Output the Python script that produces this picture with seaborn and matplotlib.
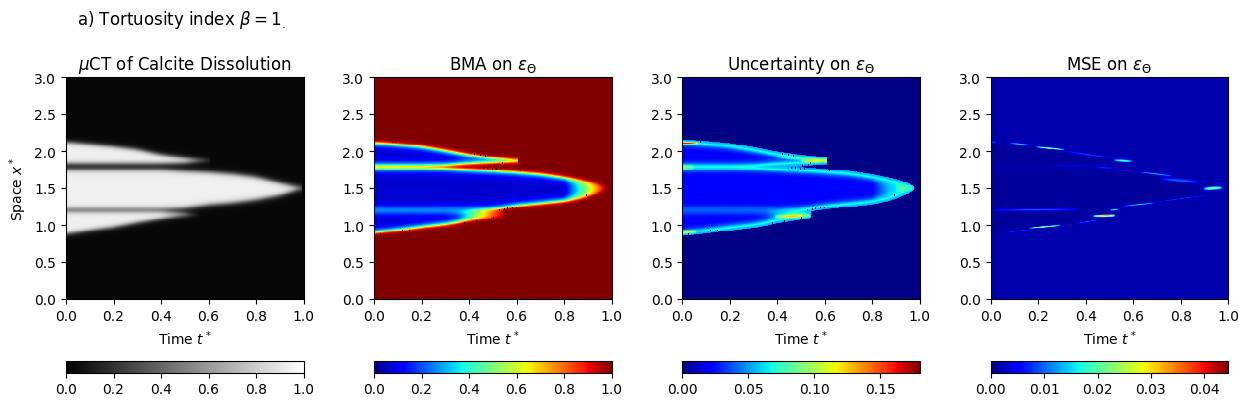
import numpy as np
import matplotlib
matplotlib.use("Agg")
import matplotlib.pyplot as plt
import seaborn as sns

# ---- values ----
tick_t = [0.0, 0.2, 0.4, 0.6, 0.8, 1.0]
tick_s = [0.0, 0.5, 1.0, 1.5, 2.0, 2.5, 3.0]
titles = [r"$\mu$CT of Calcite Dissolution", r"BMA on $\varepsilon_\Theta$",
          r"Uncertainty on $\varepsilon_\Theta$", r"MSE on $\varepsilon_\Theta$"]
cmaps = ["gray", "jet", "jet", "jet"]
vmaxs = [1.0, 1.0, 0.18, 0.0445]
cbar_ticks = [[0, .2, .4, .6, .8, 1.0], [0, .2, .4, .6, .8, 1.0],
              [0, .05, .10, .15], [0, .01, .02, .03, .04]]
cbar_fmt = ["%.1f", "%.1f", "%.2f", "%.2f"]

# finger fronts (time knots, lower and upper edge in space, amplitude)
top_t = [0, .1, .2, .3, .4, .5, .61]
bot_t = [0, .1, .2, .3, .4, .5, .56]
gray_mid_t = [0, .1, .2, .3, .4, .5, .6, .7, .8, .9, .99]

gray_top_hi = [2.12, 2.09, 2.06, 2.02, 1.95, 1.905, 1.868]
gray_top_lo = [1.83, 1.83, 1.83, 1.83, 1.83, 1.84, 1.872]
gray_top_amp = [1, 1, 1, 1, 1, 1, .4]
gray_mid_hi = [1.75, 1.75, 1.75, 1.75, 1.75, 1.73, 1.715, 1.69, 1.65, 1.57, 1.50]
gray_mid_lo = [1.217, 1.217, 1.217, 1.217, 1.217, 1.23, 1.275, 1.30, 1.34, 1.40, 1.50]
gray_bot_hi = [1.183, 1.183, 1.183, 1.183, 1.183, 1.16, 1.135]
gray_bot_lo = [0.88, 0.93, 0.97, 1.03, 1.085, 1.13, 1.145]
gray_bot_amp = [1, 1, 1, 1, 1, .8, .2]

bma_top_hi = [2.113, 2.09, 2.063, 2.009, 1.95, 1.905, 1.875]
bma_top_lo = [1.80, 1.80, 1.80, 1.805, 1.83, 1.845, 1.86]
bma_mid_t = [0, .1, .2, .3, .4, .5, .6, .7, .8, .88, .94, .985]
bma_mid_hi = [1.77, 1.77, 1.77, 1.765, 1.75, 1.735, 1.715, 1.69, 1.645, 1.60, 1.56, 1.50]
bma_mid_lo = [1.20, 1.20, 1.20, 1.20, 1.20, 1.21, 1.257, 1.288, 1.32, 1.365, 1.43, 1.50]
bma_mid_amp = [1, 1, 1, 1, 1, 1, 1, 1, 1, .6, .3, 0]
bma_bot_t = [0, .1, .2, .3, .35, .4, .45, .5, .54]
bma_bot_hi = [1.20, 1.20, 1.20, 1.20, 1.20, 1.20, 1.20, 1.20, 1.20]
bma_bot_lo = [0.896, 0.93, 0.97, 1.005, 1.03, 1.063, 1.08, 1.095, 1.108]
bma_bot_amp = [1, 1, 1, 1, .95, .75, .5, .25, .1]

# isolated dark cells along the rim of the BMA and uncertainty maps
speck_t = [.461, .475, .496, .515, .532, .541, .506, .422, .447, .468, .619, .525, .546,
           .56, .581, .598, .546, .504, .895, .12, .148, .077, .028, .38, .43]
speck_s = [1.77, 1.77, 1.761, 1.761, 1.806, 1.829, 1.806, 1.955, 1.941, 1.932, 1.73, 1.198, 1.212,
           1.221, 1.23, 1.23, 1.153, 1.095, 1.392, .914, .914, 2.113, .869, 1.018, 1.041]

# bright ridges: start time, end time, start space, end space, height, half width
unc_t0 = [-.06, -.05, .39, .50, .40, .90, -.05]
unc_t1 = [.07, .06, .54, .62, .52, 1.0, .05]
unc_s0 = [2.11, .905, 1.115, 1.87, 1.92, 1.5, 1.78]
unc_s1 = [2.105, .91, 1.13, 1.87, 1.89, 1.5, 1.78]
unc_amp = [.10, .06, .06, .055, .025, .015, .03]
unc_ws = [.012, .02, .022, .022, .02, .04, .03]

mse_t0 = [.077, .19, .317, .52, .541, .626, .71, .893, .007, .499, .556, .696, .429, .063, .162, .359, .0, .443, .26]
mse_t1 = [.177, .31, .513, .598, .584, .767, .879, .977, .373, .541, .696, .907, .527, .162, .295, .457, .02, .513, .40]
mse_s0 = [2.108, 2.054, 1.995, 1.874, 1.739, 1.716, 1.626, 1.491, 1.198, 1.198, 1.257, 1.311, 1.122, .896, .959, 1.018, 2.12, 1.784, 1.806]
mse_s1 = [2.077, 2.018, 1.905, 1.86, 1.739, 1.662, 1.581, 1.505, 1.212, 1.212, 1.302, 1.401, 1.131, .941, .995, 1.072, 2.12, 1.77, 1.797]
mse_amp = [.013, .024, .007, .019, .012, .012, .009, .024, .008, .015, .013, .007, .034, .007, .026, .008, .006, .006, .003]
mse_ws = [.012, .010, .012, .016, .008, .010, .022, .020, .014, .012, .010, .007, .014, .008, .009, .007, .02, .012, .01]

# ---- fields on the image grid ----
nx, ny = 240, 240
t_axis = (np.arange(nx) + .5) / nx
T, S = np.meshgrid(t_axis, 3 * (np.arange(ny) + .5) / ny)


def front(kt, values, half=6):
    """Edge of a finger along the time axis, rounded over a few columns."""
    line = np.interp(t_axis, kt, values)
    kernel = np.ones(2 * half + 1) / (2 * half + 1)
    return np.convolve(np.pad(line, half, mode="edge"), kernel, mode="valid")


def finger(kt, lo, hi, w, amp=None, inset=0.0):
    lo_ = front(kt, lo)[None, :] + inset
    hi_ = front(kt, hi)[None, :] - inset
    a = np.interp(T, kt, amp if amp is not None else np.ones(len(kt)))
    f = a / (1 + np.exp(-(S - lo_) / w)) / (1 + np.exp(-(hi_ - S) / w))
    return np.where(T <= kt[-1], f, 0)


def ridges(t0, t1, s0, s1, amp, ws):
    out = np.zeros_like(T)
    for a, b, c, d, e, w in zip(t0, t1, s0, s1, amp, ws):
        u = (T - a) / (b - a)
        win = np.sqrt(np.clip(np.sin(np.pi * np.clip(u, 0, 1)), 0, 1))
        out += e * win * np.exp(-((S - (c + u * (d - c))) / w) ** 2)
    return out


gray = np.clip(finger(top_t, gray_top_lo, gray_top_hi, .018, gray_top_amp)
               + finger(gray_mid_t, gray_mid_lo, gray_mid_hi, .02)
               + finger(bot_t, gray_bot_lo, gray_bot_hi, .018, gray_bot_amp), 0, 1)
gray = .03 + .91 * gray


def bma_solid(w, inset):
    return np.clip(finger(top_t, bma_top_lo, bma_top_hi, w, None, inset)
                   + finger(bma_mid_t, bma_mid_lo, bma_mid_hi, w, bma_mid_amp, inset)
                   + finger(bma_bot_t, bma_bot_lo, bma_bot_hi, w, bma_bot_amp, inset), 0, 1)


bma = np.clip(1 - .93 * (.7 * bma_solid(.012, 0) + .3 * bma_solid(.025, .04)), 0, 1)

unc = np.interp(bma, [.05, .15, .4, .7, .95, .975], [.018, .028, .055, .07, .055, .045])
unc = unc + ridges(unc_t0, unc_t1, unc_s0, unc_s1, unc_amp, unc_ws)
unc = np.where(bma > .975, .001, unc)

col = (np.array(speck_t) * nx).astype(int)
row = (np.array(speck_s) / 3 * ny).astype(int)
bma[row, col] = .0
bma[row + 1, col] = .0
unc[row, col] = .0
unc[row + 1, col] = .0

mse = .0011 + .0007 * bma + ridges(mse_t0, mse_t1, mse_s0, mse_s1, mse_amp, mse_ws)

fields = [gray, bma, unc, mse]

# ---- figure ----
W, H = 1252, 406
fig = plt.figure(figsize=(W / 100, H / 100), dpi=100)
lefts = [66, 374, 682.4, 990.8]
ax_w = 237.5

for i, (field, left) in enumerate(zip(fields, lefts)):
    ax = fig.add_axes([left / W, 1 - 300 / H, ax_w / W, 222 / H])
    cax = fig.add_axes([left / W, 1 - 373.5 / H, ax_w / W, 12 / H])
    sns.heatmap(field, ax=ax, cmap=cmaps[i], vmin=0, vmax=vmaxs[i], cbar_ax=cax,
                cbar_kws={"orientation": "horizontal"},
                xticklabels=False, yticklabels=False, square=False)
    ax.invert_yaxis()
    ax.set_xticks([nx * v for v in tick_t], ["%.1f" % v for v in tick_t], rotation=0)
    ax.set_yticks([ny * v / 3 for v in tick_s], ["%.1f" % v for v in tick_s], rotation=0)
    ax.tick_params(length=3.5, width=0.8, labelsize=10, left=True, bottom=True)
    for sp in ax.spines.values():
        sp.set_visible(True)
        sp.set_linewidth(0.8)
    ax.set_title(titles[i], fontsize=12, pad=6)
    ax.set_xlabel(r"Time $t^*$", fontsize=10, labelpad=4)
    if i == 0:
        ax.set_ylabel(r"Space $x^*$", fontsize=10)
    cb = ax.collections[0].colorbar
    cb.outline.set_visible(True)
    cb.outline.set_linewidth(0.8)
    cb.set_ticks(cbar_ticks[i], labels=[cbar_fmt[i] % v for v in cbar_ticks[i]])
    cax.tick_params(length=3.5, width=0.8, labelsize=10)

fig.text(77 / W, 1 - 20 / H, r"a) Tortuosity index $\beta = 1_.$", fontsize=12, va="center")
fig.savefig("out.png", dpi=100)
